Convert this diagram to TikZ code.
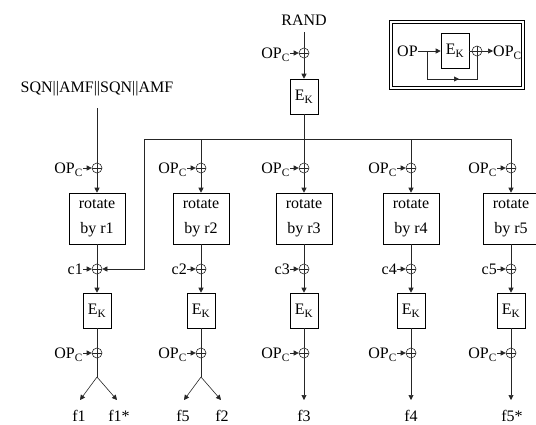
\documentclass[tikz,border=0pt]{standalone}
\usepackage{fontspec}
\setmainfont{Liberation Serif}
\usetikzlibrary{arrows.meta,calc}
\begin{document}
\begin{tikzpicture}[x=1pt,y=-1pt,
  font=\fontsize{16}{25}\selectfont,
  ln/.style={draw=black!85, line width=0.6pt},
  arr/.style={ln, -{Triangle[length=5pt,width=5pt]}},
  xor/.style={circle, draw=black!85, line width=0.6pt, minimum size=10pt, inner sep=0pt,
    path picture={\draw[line width=0.6pt,black!85] (path picture bounding box.north)--(path picture bounding box.south)
      (path picture bounding box.west)--(path picture bounding box.east);}},
  rot/.style={draw, line width=0.6pt, minimum width=56pt, minimum height=51pt, inner sep=0pt, align=center},
  ek/.style={draw, line width=0.6pt, minimum width=28pt, minimum height=35pt, inner sep=0pt},
  lbl/.style={inner sep=0pt}
]
\useasboundingbox (0,0) rectangle (536,424);

% ---- inset ----
\node[draw, double, double distance=2pt, line width=0.6pt, minimum width=132pt, minimum height=66pt, inner sep=0pt] (frame) at (457,55) {};
\node[lbl, anchor=base west] (op) at (397,56.5) {OP};
\node[ek] (eki) at (455,51) {E\textsubscript{K}};
\node[xor] (xi) at (477,51) {};
\node[lbl, anchor=base west] (opci) at (493,56.5) {OP\textsubscript{C}};
\coordinate (fb) at (427,51);
\coordinate (fbb) at (427,79);
\draw[arr] (op.east |- eki) -- (eki.west);
\draw[ln] (eki.east) -- (xi.west);
\draw[arr] (xi.east) -- (xi -| opci.west);
\draw[ln] (fb) -- (fbb) -- (fbb -| xi) -- (xi.south);
\draw[arr] (fbb) -- ($(fbb)!0.64!(fbb -| xi)$);

% ---- top ----
\node[lbl, anchor=base] (rand) at (304,25) {RAND};
\node[xor] (xt) at (304,53) {};
\node[lbl, anchor=base east] (opt) at (290,58.5) {OP\textsubscript{C}};
\node[ek] (ek0) at (304,96.5) {E\textsubscript{K}};
\draw[ln, shorten <=7pt] (rand.south) -- (xt.north);
\draw[arr] (opt.east |- xt) -- (xt.west);
\draw[arr] (xt.south) -- (ek0.north);
\coordinate (busL) at (144,139);
\coordinate (busR) at (511,139);
\draw[ln] (ek0.south) -- (ek0.south |- busL);
\draw[ln] (busL) -- (busR);

\node[lbl] (sqn) at (97,89) {SQN||AMF||SQN||AMF};

% ---- columns ----
\foreach \i/\x in {1/97,2/201,3/304,4/411,5/511}{
  \node[xor] (xo\i) at (\x,168) {};
  \node[lbl, anchor=base east] (opa\i) at (\x-14,173.5) {OP\textsubscript{C}};
  \node[rot] (rot\i) at (\x,218.5) {rotate\\by r\i};
  \node[xor] (xc\i) at (\x,269) {};
  \node[lbl, anchor=base east] (cl\i) at (\x-14,274.5) {c\i};
  \node[ek] (ek\i) at (\x,310.5) {E\textsubscript{K}};
  \node[xor] (xp\i) at (\x,353) {};
  \node[lbl, anchor=base east] (opb\i) at (\x-14,358.5) {OP\textsubscript{C}};
  \draw[arr] (opa\i.east |- xo\i) -- (xo\i.west);
  \draw[arr] (xo\i.south) -- (rot\i.north);
  \draw[ln] (rot\i.south) -- (xc\i.north);
  \draw[arr] (cl\i.east |- xc\i) -- (xc\i.west);
  \draw[arr] (xc\i.south) -- (ek\i.north);
  \draw[ln] (ek\i.south) -- (xp\i.north);
  \draw[arr] (opb\i.east |- xp\i) -- (xp\i.west);
}
\foreach \i in {2,3,4,5}{
  \draw[ln] (xo\i |- busL) -- (xo\i.north);
}
\draw[ln, shorten <=12pt] (sqn.south) -- (xo1.north);
\draw[arr] (busL) -- (busL |- xc1) -- (xc1.east);

% ---- outputs ----
\coordinate (s1) at (97,377);
\coordinate (s2) at (201,377);
\coordinate (t1a) at (80,400);
\coordinate (t1b) at (117,400);
\coordinate (t2a) at (184,400);
\coordinate (t2b) at (221,400);
\coordinate (t3) at (304,400);
\coordinate (t4) at (411,400);
\coordinate (t5) at (511,400);
\draw[ln] (xp1.south) -- (s1);
\draw[arr] (s1) -- (t1a);
\draw[arr] (s1) -- (t1b);
\draw[ln] (xp2.south) -- (s2);
\draw[arr] (s2) -- (t2a);
\draw[arr] (s2) -- (t2b);
\draw[arr] (xp3.south) -- (t3);
\draw[arr] (xp4.south) -- (t4);
\draw[arr] (xp5.south) -- (t5);
\node[lbl, anchor=base] (f1) at (79,421) {f1};
\node[lbl, anchor=base] (f1s) at (119,421) {f1*};
\node[lbl, anchor=base] (f5) at (183,421) {f5};
\node[lbl, anchor=base] (f2) at (222,421) {f2};
\node[lbl, anchor=base] (f3) at (304,421) {f3};
\node[lbl, anchor=base] (f4) at (411,421) {f4};
\node[lbl, anchor=base] (f5s) at (512,421) {f5*};
\end{tikzpicture}
\end{document}
